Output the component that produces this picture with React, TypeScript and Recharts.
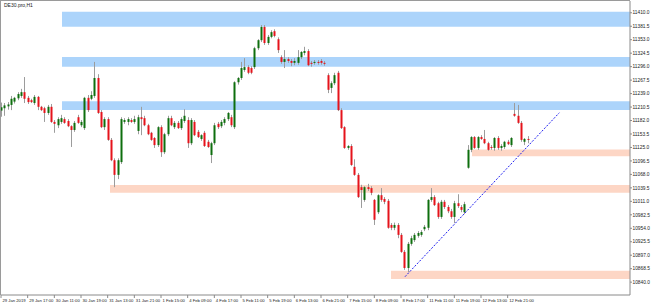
import React from 'react';
import {
  ComposedChart,
  Bar,
  XAxis,
  YAxis,
  ReferenceArea,
  ReferenceLine,
} from 'recharts';

// DE30 H1 candles (index = hourly bar from 29 Jan 09:00)
const opens = [
  11203, 11208, 11212, 11215, 11222, 11229, 11234, 11242, 11230, 11225,
  11219, 11232, 11211, 11208, 11198, 11211, 11179, 11172, 11179, 11185,
  11181, 11170, 11162, 11189, 11172, 11166, 11230, 11228, 11234, 11272,
  11200, 11168, 11185, 11141, 11098, 11067, 11094, 11179, 11179, 11183,
  11179, 11160, 11189, 11187, 11172, 11156, 11145, 11130, 11168, 11115,
  11153, 11187, 11168, 11177, 11166, 11181, 11183, 11134, 11179, 11158,
  11143, 11156, 11137, 11109, 11134, 11175, 11170, 11177, 11185, 11189,
  11168, 11263, 11272, 11289, 11295, 11293, 11295, 11335, 11352, 11380,
  11346, 11359, 11371, 11354, 11316, 11306, 11312, 11308, 11304, 11304,
  11316, 11325, 11329, 11304, 11304, 11306, 11308, 11304, 11278, 11251,
  11261, 11283, 11204, 11168, 11124, 11128, 11084, 11067, 11041, 11014,
  11041, 11039, 11014, 10988, 11024, 11016, 11012, 10961, 10955, 10961,
  10940, 10904, 10870, 10921, 10929, 10938, 10940, 10952, 10955, 11014,
  11020, 11007, 10978, 11010, 10999, 10990, 10978, 11007, 10999, 10988,
  11082, 11120, 11147, 11124, 11147, 11143, 11134, 11126, 11124, 11145,
  11124, 11126, 11137, 11130, 11196, 11192, 11177, 11137, 11143,
];
const highs = [
  11220, 11219, 11221, 11234, 11232, 11242, 11249, 11274, 11234, 11228,
  11236, 11234, 11213, 11211, 11215, 11217, 11183, 11189, 11194, 11189,
  11185, 11172, 11181, 11194, 11183, 11232, 11236, 11244, 11306, 11280,
  11204, 11189, 11189, 11145, 11102, 11102, 11189, 11187, 11189, 11187,
  11192, 11194, 11211, 11192, 11175, 11158, 11147, 11170, 11172, 11156,
  11192, 11192, 11181, 11181, 11189, 11206, 11189, 11187, 11183, 11162,
  11153, 11160, 11141, 11137, 11177, 11179, 11183, 11189, 11200, 11194,
  11265, 11274, 11306, 11314, 11299, 11297, 11338, 11354, 11384, 11384,
  11363, 11373, 11375, 11358, 11320, 11331, 11316, 11312, 11314, 11331,
  11329, 11338, 11333, 11308, 11310, 11310, 11312, 11308, 11282, 11265,
  11283, 11287, 11208, 11170, 11130, 11132, 11100, 11071, 11046, 11043,
  11048, 11043, 11016, 11026, 11039, 11020, 11016, 10965, 10966, 10965,
  10944, 10908, 10925, 10938, 10944, 10948, 10950, 10961, 11016, 11039,
  11024, 11010, 11014, 11014, 11003, 10995, 11012, 11026, 11003, 11010,
  11130, 11149, 11149, 11149, 11151, 11162, 11137, 11130, 11147, 11149,
  11132, 11139, 11141, 11147, 11219, 11215, 11181, 11145, 11149,
];
const lows = [
  11190, 11192, 11205, 11204, 11218, 11225, 11230, 11219, 11217, 11219,
  11215, 11204, 11202, 11179, 11194, 11177, 11156, 11166, 11175, 11175,
  11168, 11126, 11158, 11175, 11168, 11162, 11200, 11225, 11230, 11196,
  11166, 11162, 11139, 11096, 11041, 11058, 11090, 11175, 11172, 11177,
  11175, 11153, 11151, 11170, 11151, 11139, 11124, 11126, 11105, 11111,
  11149, 11170, 11164, 11164, 11162, 11177, 11124, 11130, 11149, 11145,
  11139, 11126, 11124, 11092, 11130, 11164, 11166, 11172, 11181, 11168,
  11164, 11258, 11268, 11285, 11280, 11280, 11291, 11331, 11348, 11342,
  11342, 11356, 11358, 11325, 11302, 11293, 11304, 11297, 11299, 11300,
  11312, 11320, 11297, 11296, 11300, 11300, 11300, 11298, 11240, 11240,
  11257, 11202, 11164, 11122, 11120, 11086, 11065, 11018, 10997, 11010,
  11033, 11024, 10961, 10984, 11010, 11005, 10953, 10950, 10950, 10933,
  10902, 10866, 10861, 10917, 10925, 10934, 10936, 10948, 10950, 11010,
  11001, 10974, 10974, 10995, 10986, 10974, 10965, 10997, 10988, 10984,
  11080, 11115, 11122, 11120, 11141, 11132, 11118, 11120, 11118, 11120,
  11118, 11122, 11130, 11126, 11190, 11175, 11137, 11130, 11134,
];
const closes = [
  11210, 11214, 11216, 11228, 11230, 11238, 11242, 11228, 11221, 11221,
  11232, 11211, 11204, 11198, 11211, 11179, 11175, 11185, 11187, 11177,
  11170, 11162, 11177, 11177, 11179, 11230, 11204, 11236, 11272, 11198,
  11168, 11185, 11141, 11098, 11067, 11098, 11185, 11183, 11185, 11179,
  11185, 11189, 11185, 11172, 11153, 11141, 11130, 11168, 11115, 11153,
  11187, 11172, 11177, 11166, 11185, 11192, 11134, 11183, 11151, 11147,
  11151, 11128, 11126, 11134, 11172, 11168, 11179, 11185, 11198, 11172,
  11263, 11272, 11293, 11295, 11283, 11283, 11335, 11352, 11380, 11346,
  11359, 11369, 11361, 11331, 11306, 11312, 11308, 11304, 11308, 11316,
  11327, 11329, 11299, 11302, 11306, 11304, 11304, 11302, 11247, 11261,
  11278, 11204, 11166, 11124, 11128, 11088, 11067, 11020, 11035, 11041,
  11037, 11029, 10972, 11024, 11014, 11010, 10955, 10955, 10961, 10940,
  10904, 10870, 10921, 10933, 10940, 10944, 10946, 10957, 11014, 11020,
  11003, 10978, 11010, 10999, 10990, 10978, 11007, 11001, 10993, 11005,
  11120, 11147, 11124, 11147, 11143, 11134, 11120, 11124, 11145, 11124,
  11128, 11137, 11132, 11145, 11192, 11177, 11141, 11143, 11141,
];

const timeTicks = [0, 8, 16, 24, 32, 40, 48, 56, 64, 72, 80, 88, 96, 104, 112, 120, 128, 136, 144, 152];
const timeLabels = [
  '29 Jan 2019', '29 Jan 17:00', '30 Jan 11:00', '30 Jan 19:00', '31 Jan 13:00',
  '31 Jan 21:00', '1 Feb 15:00', '4 Feb 09:00', '4 Feb 17:00', '5 Feb 11:00',
  '5 Feb 19:00', '6 Feb 13:00', '6 Feb 21:00', '7 Feb 15:00', '8 Feb 09:00',
  '8 Feb 17:00', '11 Feb 11:00', '11 Feb 19:00', '12 Feb 13:00', '12 Feb 21:00',
];

const priceTicks = [
  10840.0, 10868.5, 10897.0, 10925.5, 10954.0, 10982.5, 11011.0, 11039.5, 11068.0, 11096.5,
  11125.0, 11153.5, 11182.0, 11210.5, 11239.0, 11267.5, 11296.0, 11324.5, 11353.0, 11381.5, 11410.0,
];

// resistance zones (blue) and support zones (salmon): start bar, top, bottom
const resistStart = [18.3, 18.3, 18.3];
const resistTop = [11412.2, 11316.4, 11222.6];
const resistBottom = [11380.5, 11295.9, 11204.2];
const supportStart = [141.3, 32.7, 117];
const supportTop = [11120.7, 11045.5, 10864.2];
const supportBottom = [11106.3, 11029.2, 10846.6];

// dotted trend line from the 8 Feb low
const trendBars = [121.2, 167.5];
const trendPrices = [10851.5, 11198.5];

const X_MIN = 0;
const X_MAX = 188.7;
const Y_MIN = 10812.8;
const Y_MAX = 11434.9;

const data = opens.map((o, i) => ({
  i,
  o,
  h: highs[i],
  l: lows[i],
  c: closes[i],
  range: [lows[i], highs[i]],
}));

const FONT = '"Liberation Sans", Arial, sans-serif';

const Candle = (props: any) => {
  const { x, y, width, height, payload } = props;
  if (payload == null) return null;
  const { o, h, l, c } = payload;
  const top = height >= 0 ? y : y + height;
  const span = Math.abs(height);
  const k = h > l ? span / (h - l) : 0;
  const cx = Math.round(x + width / 2) + 0.5;
  const bodyTop = top + (h - Math.max(o, c)) * k;
  const bodyBot = top + (h - Math.min(o, c)) * k;
  const up = c >= o;
  return (
    <g>
      <line x1={cx} x2={cx} y1={top} y2={top + span} stroke="#9c9c9c" strokeWidth={1} />
      <rect
        x={cx - 1}
        y={bodyTop}
        width={2}
        height={Math.max(bodyBot - bodyTop, 1)}
        fill={up ? '#0e6f0e' : '#e5131b'}
      />
    </g>
  );
};

const TimeTick = (props: any) => {
  const { x, y, payload } = props;
  const idx = timeTicks.indexOf(payload.value);
  return (
    <text x={x + 1.5} y={y + 4.2} fontSize={4.2} fill="#222" fontFamily={FONT}>
      {timeLabels[idx]}
    </text>
  );
};

const PriceTick = (props: any) => {
  const { x, y, payload } = props;
  return (
    <text x={x + 0.5} y={y + 1.7} fontSize={4.8} fill="#222" fontFamily={FONT}>
      {Number(payload.value).toFixed(1)}
    </text>
  );
};

export default function App() {
  return (
    <div style={{ position: 'relative', width: 653, height: 305, background: '#fff' }}>
      <style>{'body{margin:0}'}</style>
      <ComposedChart
        width={653}
        height={305}
        data={data}
        margin={{ top: 1, right: 0, bottom: 0, left: 1 }}
      >
        <XAxis
          dataKey="i"
          type="number"
          domain={[X_MIN, X_MAX]}
          allowDataOverflow
          ticks={timeTicks}
          interval={0}
          height={10}
          tickSize={3}
          tickMargin={0}
          stroke="#8a8a8a"
          tick={<TimeTick />}
        />
        <YAxis
          orientation="right"
          type="number"
          domain={[Y_MIN, Y_MAX]}
          allowDataOverflow
          ticks={priceTicks}
          interval={0}
          width={23}
          tickSize={2}
          tickMargin={0}
          stroke="#8a8a8a"
          tick={<PriceTick />}
        />
        {resistTop.map((t, k) => (
          <ReferenceArea
            key={'r' + k}
            x1={resistStart[k]}
            x2={X_MAX}
            y1={resistBottom[k]}
            y2={t}
            fill="#acd4fb"
            fillOpacity={1}
            stroke="none"
            ifOverflow="hidden"
          />
        ))}
        {supportTop.map((t, k) => (
          <ReferenceArea
            key={'s' + k}
            x1={supportStart[k]}
            x2={X_MAX}
            y1={supportBottom[k]}
            y2={t}
            fill="#fdd6c5"
            fillOpacity={1}
            stroke="none"
            ifOverflow="hidden"
          />
        ))}
        <Bar dataKey="range" barSize={3} shape={<Candle />} isAnimationActive={false} />
        <ReferenceLine
          segment={[
            { x: trendBars[0], y: trendPrices[0] },
            { x: trendBars[1], y: trendPrices[1] },
          ]}
          stroke="#1e1ef0"
          strokeWidth={1}
          strokeDasharray="2 1.5"
          ifOverflow="visible"
        />
      </ComposedChart>
      <div
        style={{
          position: 'absolute',
          left: 0,
          top: 0,
          width: 630,
          height: 295,
          boxSizing: 'border-box',
          borderLeft: '1px solid #9a9a9a',
          borderTop: '1px solid #9a9a9a',
          pointerEvents: 'none',
        }}
      />
      <div
        style={{
          position: 'absolute',
          left: 4,
          top: 3,
          fontSize: 5,
          fontFamily: FONT,
          color: '#222',
          lineHeight: 1,
        }}
      >
        DE30.pro,H1
      </div>
    </div>
  );
}
